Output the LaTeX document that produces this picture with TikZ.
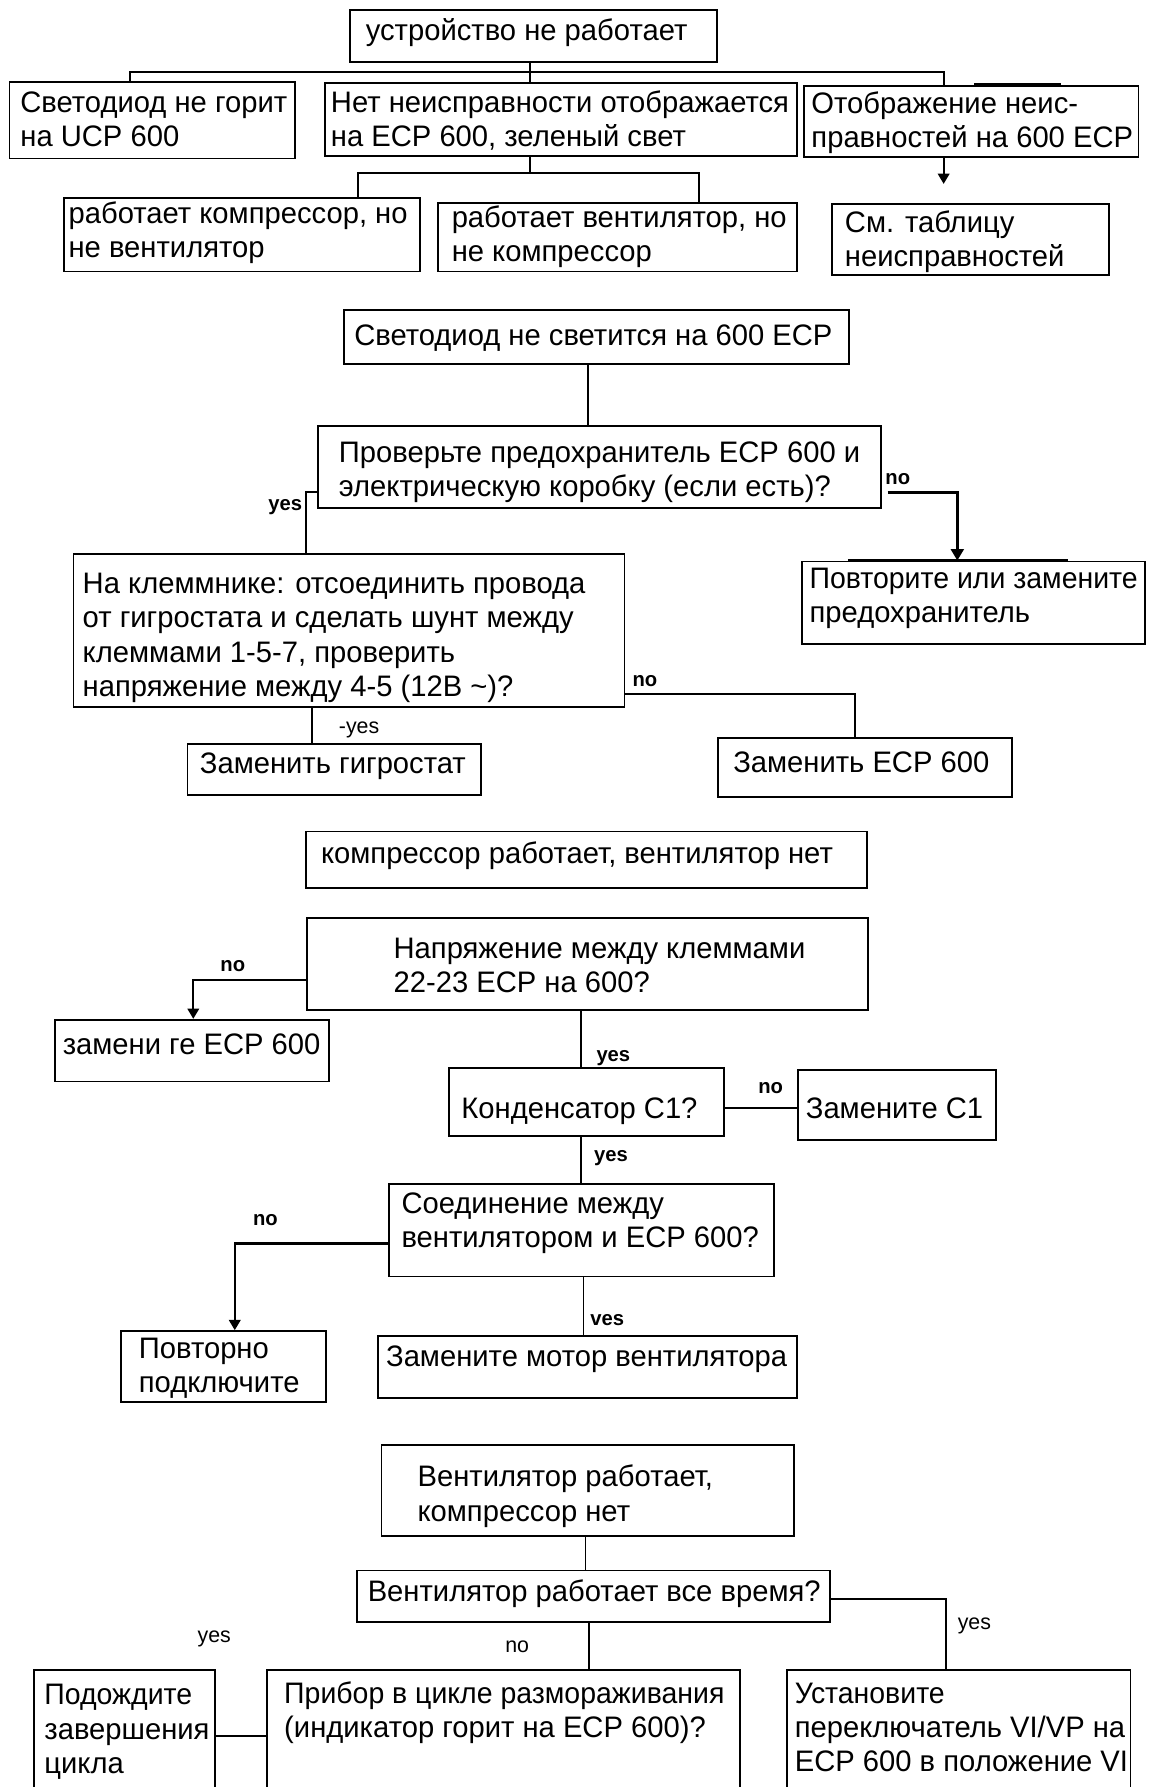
\documentclass[tikz,border=0pt]{standalone}
\usepackage{fontspec}
\setmainfont{Liberation Sans}[FakeStretch=0.985]
\newfontfamily\cond{Liberation Sans}[FakeStretch=0.96]
\usetikzlibrary{fit,arrows.meta,calc}
\newcommand{\upr}{\rule{0pt}{12pt}}
\begin{document}
\begin{tikzpicture}[x=0.5pt,y=-0.5pt,
  box/.style={draw, line width=0.8pt, inner sep=0pt},
  txt/.style={anchor=north west, inner sep=0pt, align=left, font=\fontsize{13pt}{15pt}\selectfont},
  lbb/.style={anchor=base west, inner sep=0pt, font=\fontsize{9pt}{10pt}\selectfont\bfseries},
  lbr/.style={anchor=base west, inner sep=0pt, font=\fontsize{9.5pt}{10pt}\selectfont},
  con/.style={line width=0.8pt},
  thk/.style={line width=1.5pt},
  arr/.style={line width=1pt, -{Triangle[width=5pt,length=4.5pt]}},
  arrt/.style={line width=1.5pt, -{Triangle[width=5.5pt,length=5pt]}},
]
\fill[white] (0,0) rectangle (1008,1568);
\useasboundingbox (0,0) rectangle (1008,1568);
\clip (0,0) rectangle (1008,1568);

% ---------- boxes ----------
\node[box, fit={(307,8.8)(629,54.7)}] (A) {};
\node[box, fit={(8.4,71.6)(258.5,139)}] (B1) {};
\node[box, fit={(285,73)(699,137)}] (B2) {};
\node[box, fit={(705.8,75.4)(999,137.4)}] (B3) {};
\node[box, fit={(56.4,174)(368.6,238.3)}] (C1) {};
\node[box, fit={(384.5,178)(699,238.3)}] (C2) {};
\node[box, fit={(730.2,179)(973.3,241.2)}] (D) {};
\node[box, fit={(301.5,272)(745,319.3)}] (E) {};
\node[box, fit={(278.7,373.7)(773,446)}] (F) {};
\node[box, fit={(64.5,486.3)(548,620)}] (G) {};
\node[box, fit={(704,492.7)(1005,565)}] (H) {};
\node[box, fit={(164.5,653)(422,697.4)}] (I) {};
\node[box, fit={(630,647.7)(887.8,699.4)}] (J) {};
\node[box, fit={(268.6,729.6)(760.5,779.3)}] (K) {};
\node[box, fit={(269.3,805.6)(761.8,886)}] (L) {};
\node[box, fit={(48,894.8)(288.7,949)}] (M) {};
\node[box, fit={(393.8,937.2)(635,997)}] (N) {};
\node[box, fit={(700,938.6)(874,1000)}] (O) {};
\node[box, fit={(341,1038.7)(679,1120)}] (P) {};
\node[box, fit={(106,1168)(286,1230.5)}] (Q) {};
\node[box, fit={(332,1172)(699,1226.6)}] (R) {};
\node[box, fit={(334.7,1268)(696.7,1348)}] (S) {};
\node[box, fit={(313,1378)(728.6,1423.5)}] (T) {};
\node[box, fit={(234,1465)(649,1600)}] (U) {};
\node[box, fit={(30,1465)(188.7,1600)}] (W) {};
\node[box, fit={(690.7,1465)(992,1600)}] (V) {};

% thick bars on box tops
\draw[thk] (855,74.5) -- (931,74.5);
\draw[thk] (744,492) -- (937,492);

% ---------- texts ----------
\node[txt] (At) at (320.6,11) {\upr устройство не работает};
\node[txt] (B1t) at (17.5,74) {\upr Светодиод не горит\\на UCP 600};
\node[txt] (B2t) at (290,74) {\upr Нет неисправности отображается\\на ECP 600, зеленый свет};
\node[txt] (B3t) at (711.6,75.4) {\upr Отображение неис-\\правностей на 600 ECP};
\node[txt] (C1t) at (59.8,171.3) {\upr работает компрессор, но\\не вентилятор};
\node[txt] (C2t) at (396,175) {\upr работает вентилятор, но\\не компрессор};
\node[txt] (Dt) at (741,179.2) {\upr См. таблицу\\неисправностей};
\node[txt] (Et) at (310.5,278.7) {\upr Светодиод не светится на 600 ECP};
\node[txt] (Ft) at (297,381) {\upr Проверьте предохранитель ECP 600 и\\электрическую коробку (если есть)?};
\node[txt] (Gt) at (72.2,496.5) {\upr На клеммнике: отсоединить провода\\от гигростата и сделать шунт между\\клеммами 1-5-7, проверить\\напряжение между 4-5 (12В \textasciitilde)?};
\node[txt] (Ht) at (710,492) {\cond\upr Повторите или замените\\предохранитель};
\node[txt] (It) at (175,654.4) {\upr Заменить гигростат};
\node[txt] (Jt) at (643,653) {\upr Заменить ECP 600};
\node[txt] (Kt) at (281.3,733.4) {\upr компрессор работает, вентилятор нет};
\node[txt] (Lt) at (345,816.7) {\upr Напряжение между клеммами\\22-23 ECP на 600?};
\node[txt] (Mt) at (54.7,900.6) {\upr замени ге ECP 600};
\node[txt] (Nt) at (404.5,957) {\upr Конденсатор C1?};
\node[txt] (Ot) at (706.7,957) {\upr Замените C1};
\node[txt] (Pt) at (351.9,1040.4) {\upr Соединение между\\вентилятором и ECP 600?};
\node[txt] (Qt) at (121.5,1167.6) {\upr Повторно\\подключите};
\node[txt] (Rt) at (338.4,1175) {\upr Замените мотор вентилятора};
\node[txt] (St) at (366,1280.2) {\upr Вентилятор работает,\\компрессор нет};
\node[txt] (Tt) at (322.3,1381) {\upr Вентилятор работает все время?};
\node[txt] (Ut) at (249,1470.3) {\cond\upr Прибор в цикле размораживания\\(индикатор горит на ECP 600)?};
\node[txt] (Wt) at (38.6,1471.6) {\cond\upr Подождите\\завершения\\цикла};
\node[txt] (Vt) at (697,1470) {\cond\upr Установите\\переключатель VI/VP на\\ECP 600 в положение VI};

% ---------- junction coordinates ----------
\coordinate (jA) at (465,63);
\coordinate (busL) at (114,63);
\coordinate (busR) at (828,63);
\coordinate (jB) at (465,151.5);
\coordinate (b2L) at (314,151.5);
\coordinate (b2R) at (613,151.5);
\coordinate (arrD) at (828,161.4);
\coordinate (jE) at (516,0);
\coordinate (yF) at (268.6,431.9);
\coordinate (nF) at (840,431.9);
\coordinate (jG) at (273.6,0);
\coordinate (nG) at (750,609);
\coordinate (nL) at (169.6,859.7);
\coordinate (jL) at (510,0);
\coordinate (nN) at (0,972.3);
\coordinate (nP) at (206,1091);
\coordinate (jP) at (512,0);
\coordinate (jS) at (513.7,0);
\coordinate (jT) at (517,0);
\coordinate (yT) at (830,1403);
\coordinate (yW) at (0,1523);

% ---------- connectors ----------
\draw[con] (A.south -| jA) -- (B2.north -| jA);
\draw[con] (B1.north -| busL) -- (busL) -- (busR) -- (B3.north -| busR);
\draw[con] (B2.south -| jB) -- (jB);
\draw[con] (C1.north -| b2L) -- (b2L) -- (b2R) -- (C2.north -| b2R);
\draw[arr] (B3.south -| arrD) -- (arrD);
\draw[con] (E.south -| jE) -- (F.north -| jE);
\draw[con] (F.west |- yF) -- (yF) -- (G.north -| yF);
\draw[arrt, shorten <=2.5pt] (F.east |- nF) -- (nF) -- (H.north -| nF);
\draw[con] (G.south -| jG) -- (I.north -| jG);
\draw[con] (G.east |- nG) -- (nG) -- (J.north -| nG);
\draw[arr] (L.west |- nL) -- (nL) -- (M.north -| nL);
\draw[con] (L.south -| jL) -- (N.north -| jL);
\draw[con] (N.east |- nN) -- (O.west |- nN);
\draw[con] (N.south -| jL) -- (P.north -| jL);
\draw[arr] (P.west |- nP) -- (nP) -- (Q.north -| nP);
\draw[con] (P.south -| jP) -- (R.north -| jP);
\draw[con] (S.south -| jS) -- (T.north -| jS);
\draw[con] (T.south -| jT) -- (U.north -| jT);
\draw[con] (T.east |- yT) -- (yT) -- (V.north -| yT);
\draw[con] (W.east |- yW) -- (U.west |- yW);

% ---------- labels ----------
\node[lbb] (l1) at (235,447.7) {yes};
\node[lbb] (l2) at (776.5,424.7) {no};
\node[lbr] (l3) at (297,644) {-yes};
\node[lbb] (l4) at (554.6,602) {no};
\node[lbb] (l5) at (193,852.7) {no};
\node[lbb] (l6) at (523,931.7) {yes};
\node[lbb] (l7) at (665,959.4) {no};
\node[lbb] (l8) at (521,1019.4) {yes};
\node[lbb] (l9) at (221.6,1075.7) {no};
\node[lbb] (l10) at (517.6,1162.7) {ves};
\node[lbr] (l11) at (173,1441) {yes};
\node[lbr] (l12) at (443,1450) {no};
\node[lbr] (l13) at (840,1430) {yes};
\end{tikzpicture}
\end{document}
